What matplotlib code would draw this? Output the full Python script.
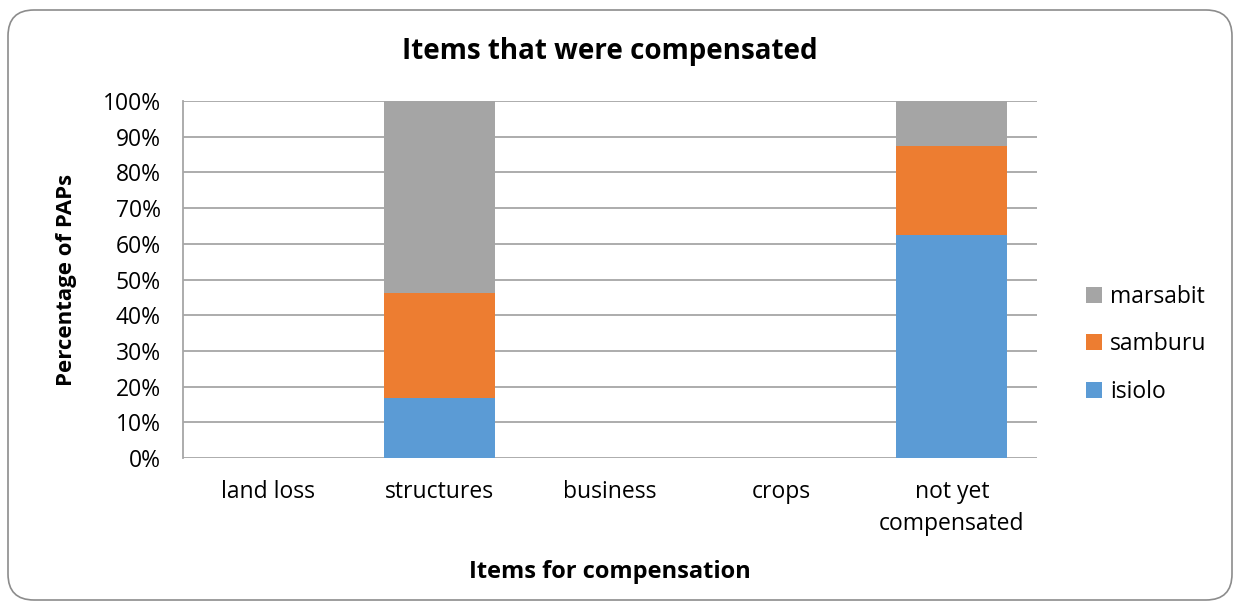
import matplotlib.pyplot as plt
import numpy as np
from matplotlib.patches import FancyBboxPatch

plt.rcParams['font.family'] = ['Open Sans', 'DejaVu Sans']

categories = ['land loss', 'structures', 'business', 'crops', 'not yet\ncompensated']
isiolo = [0, 16.7, 0, 0, 62.5]
samburu = [0, 29.5, 0, 0, 25.0]
marsabit = [0, 53.8, 0, 0, 12.5]

colors = {'isiolo': '#5B9BD5', 'samburu': '#ED7D31', 'marsabit': '#A5A5A5'}

fig = plt.figure(figsize=(12.42, 6.06), dpi=100)
ax = fig.add_axes([0.1473, 0.2442, 0.6878, 0.5891])

# chart frame with rounded corners, sized in inches
frame = FancyBboxPatch((0.08, 0.06), 12.24, 5.90, boxstyle='round,pad=0,rounding_size=0.26',
                       transform=fig.dpi_scale_trans, facecolor='white', edgecolor='#8C8C8C',
                       linewidth=1.2, zorder=-10)
fig.patches.append(frame)

x = np.arange(len(categories))
w = 0.65
bottom = np.zeros(len(categories))
handles = []
for name, vals in [('isiolo', isiolo), ('samburu', samburu), ('marsabit', marsabit)]:
    b = ax.bar(x, vals, w, bottom=bottom, color=colors[name], label=name, zorder=3)
    handles.append(b)
    bottom += np.array(vals)

ax.set_xlim(-0.5, 4.5)
ax.set_ylim(0, 100)
ax.set_yticks(np.arange(0, 101, 10))
ax.set_yticklabels([f'{v}%' for v in range(0, 101, 10)], fontsize=16.5)
ax.set_xticks(x)
ax.set_xticklabels(categories, fontsize=16.5, linespacing=1.45)
ax.tick_params(axis='y', length=0, pad=16)
ax.tick_params(axis='x', length=0, pad=16)
ax.grid(axis='y', color='#A6A6A6', linewidth=1.3, zorder=0)
for s in ['top', 'right', 'bottom']:
    ax.spines[s].set_visible(False)
ax.spines['left'].set_color('#A6A6A6')
ax.spines['left'].set_linewidth(1.3)

ax.set_title('Items that were compensated', fontsize=20, fontweight='bold', pad=30)
ax.set_xlabel('Items for compensation', fontsize=17, fontweight='bold', labelpad=17)
ax.set_ylabel('Percentage of PAPs', fontsize=16, fontweight='bold')
ax.yaxis.set_label_coords(-0.124, 0.5)

leg = ax.legend(handles[::-1], ['marsabit', 'samburu', 'isiolo'], loc='center left',
                bbox_to_anchor=(1.033, 0.318), frameon=False, fontsize=16.5,
                handlelength=0.7, handleheight=0.7, labelspacing=1.02, handletextpad=0.35)

fig.savefig('out.png', dpi=100)
